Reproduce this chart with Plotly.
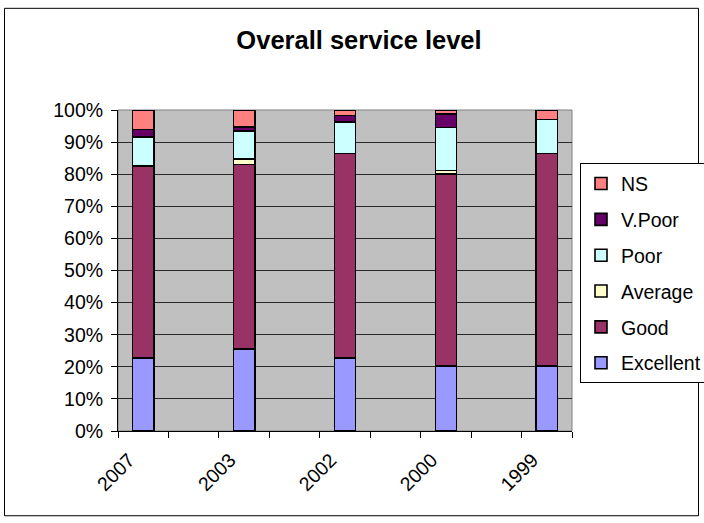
import plotly.graph_objects as go

# Survey years and share of responses (%) per rating
years = ["2007", "2003", "2002", "2000", "1999"]
excellent = [22.7, 25.6, 22.7, 20.3, 20.3]
good = [59.8, 57.4, 63.7, 59.7, 66.1]
average = [0.0, 1.8, 0.0, 1.2, 0.0]
poor = [9.1, 8.6, 9.8, 13.3, 10.6]
v_poor = [2.3, 1.3, 2.1, 4.3, 0.0]
ns = [6.1, 5.3, 1.7, 1.2, 3.0]

series = [
    ("Excellent", excellent, "#9999FF"),
    ("Good", good, "#993366"),
    ("Average", average, "#FFFFCC"),
    ("Poor", poor, "#CCFFFF"),
    ("V.Poor", v_poor, "#660066"),
    ("NS", ns, "#FF8080"),
]

# each year occupies every other slot, leaving an empty slot between bars
slots = [2 * i for i in range(len(years))]
n_slots = 2 * len(years) - 1
# rotated year labels sit slightly left of the bar centre
label_pos = [s - 0.28 for s in slots]

W, H = 704, 523
L, R, T, B = 118, 132, 109.5, 91.5
pw, ph = W - L - R, H - T - B

fig = go.Figure()
for i, (name, vals, color) in enumerate(series):
    fig.add_trace(go.Bar(
        x=slots, y=vals, name=name, legendgroup=name,
        legendrank=len(series) - i,  # top segment listed first
        width=0.42,
        marker=dict(color=color, line=dict(color="black", width=1.6)),
    ))

font = "Liberation Sans, Arial, sans-serif"


def px_x(v):
    return (v - L) / pw


def px_y(v):
    return (H - B - v) / ph


fig.update_layout(
    width=W, height=H,
    margin=dict(l=L, r=R, t=T, b=B, pad=0, autoexpand=False),
    barmode="stack",
    paper_bgcolor="white",
    plot_bgcolor="#C0C0C0",
    font=dict(family=font, size=19.5, color="black"),
    title=dict(
        text="<b>Overall service level</b>",
        x=359 / W, xref="container", xanchor="center",
        y=1 - 40 / H, yref="container", yanchor="middle",
        font=dict(family=font, size=25.5, color="black"),
    ),
    showlegend=True,
    legend=dict(
        x=px_x(580), y=px_y(163), xanchor="left", yanchor="top",
        traceorder="grouped", tracegroupgap=7.5,
        bgcolor="white", bordercolor="black", borderwidth=1,
        font=dict(family=font, size=19.5),
        itemwidth=30,
    ),
    xaxis=dict(
        range=[-0.5, n_slots - 0.5],
        tickmode="array", tickvals=label_pos, ticktext=years,
        tickangle=-45, ticks="", showgrid=False, zeroline=False,
        showline=True, linecolor="black", linewidth=1,
        ticklabelstandoff=9,
        minor=dict(tickmode="linear", tick0=-0.5, dtick=1, ticks="outside",
                   ticklen=6, tickcolor="black", tickwidth=1, showgrid=False),
    ),
    yaxis=dict(
        range=[0, 100], tickmode="linear", tick0=0, dtick=10, ticksuffix="%",
        ticks="outside", ticklen=6, tickcolor="black", tickwidth=1,
        showgrid=True, gridcolor="#2a2a2a", gridwidth=1, zeroline=False,
        showline=True, linecolor="black", linewidth=1,
        ticklabelstandoff=4,
    ),
    shapes=[
        # plot-area frame (top and right edges)
        dict(type="rect", xref="paper", yref="paper", x0=0, x1=1, y0=0, y1=1,
             line=dict(color="#808080", width=1), layer="between"),
        # chart-area border
        dict(type="rect", xref="paper", yref="paper",
             x0=px_x(4.5), x1=px_x(698.5), y0=px_y(516.5), y1=px_y(7.5),
             line=dict(color="black", width=1), layer="below"),
    ],
)

fig.write_html("out.html")
